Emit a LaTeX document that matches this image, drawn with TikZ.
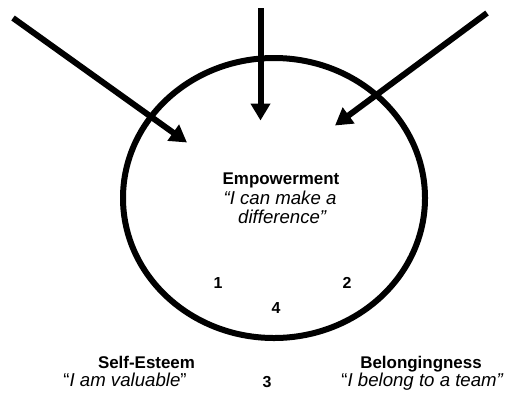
\documentclass[tikz,border=0pt]{standalone}
\usepackage{fontspec}
\setmainfont{Liberation Sans}
\usetikzlibrary{arrows.meta}
\begin{document}
\begin{tikzpicture}[x=1bp,y=-1bp,
  ring/.style={line width=6bp},
  inarrow/.style={line width=6bp,-{Triangle[width=19bp,length=17bp]}},
  lbl/.style={font=\fontsize{17}{20}\selectfont, inner sep=0pt, anchor=base},
  qlbl/.style={font=\fontsize{18.7}{20}\selectfont, inner sep=0pt, anchor=base},
  num/.style={font=\fontsize{16}{19}\selectfont\bfseries, inner sep=0pt, anchor=base}]
\useasboundingbox (0,0) rectangle (505,394);
\draw[ring] (274,198) ellipse [x radius=151bp, y radius=140bp];
% arrows
\coordinate (s1) at (13,18);
\coordinate (t1) at (187,142.5);
\coordinate (s2) at (260.5,8);
\coordinate (t2) at (260.5,120.5);
\coordinate (s3) at (487,13);
\coordinate (t3) at (335,125.5);
\draw[inarrow] (s1) -- (t1);
\draw[inarrow] (s2) -- (t2);
\draw[inarrow] (s3) -- (t3);
% texts
\node[lbl] (emp) at (281,184) {\textbf{Empowerment}};
\node[qlbl] (emp2) at (280,204) {\textit{“I can make a}};
\node[qlbl] (emp3) at (282.5,223) {\textit{difference”}};
\node[lbl] (se) at (146.5,368) {\textbf{Self-Esteem}};
\node[qlbl] (se2) at (125,386) {“\textit{I am valuable}”};
\node[lbl] (bel) at (421,368) {\textbf{Belongingness}};
\node[qlbl] (bel2) at (422.5,386) {“\textit{I belong to a team”}};
% numbers
\node[num] (n1) at (218,288) {1};
\node[num] (n2) at (347,288) {2};
\node[num] (n4) at (276,313) {4};
\node[num] (n3) at (267,387) {3};
\end{tikzpicture}
\end{document}
